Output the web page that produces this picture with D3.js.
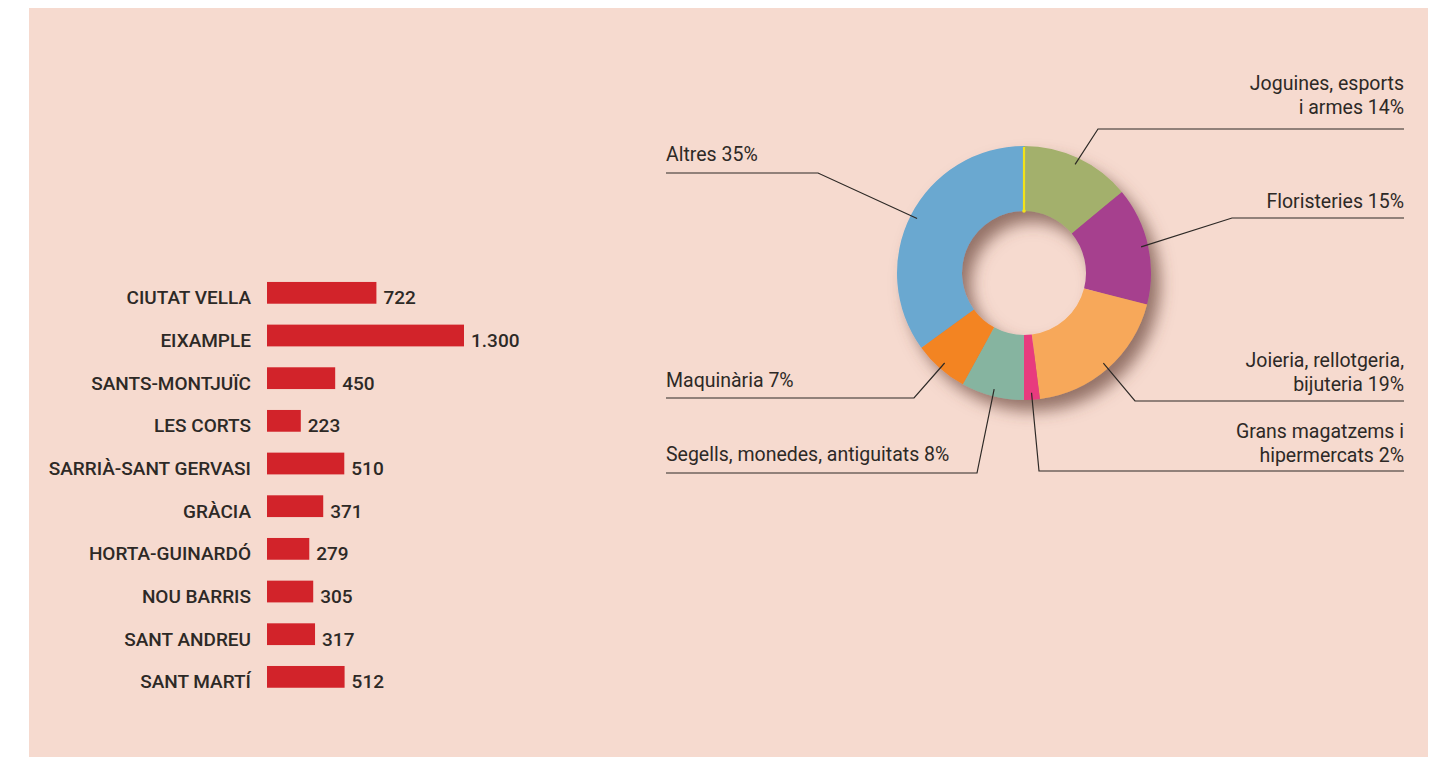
<!DOCTYPE html>
<html>
<head>
<meta charset="utf-8">
<script src="https://cdn.jsdelivr.net/npm/d3@7"></script>
<style>
  body { margin: 0; background: #fff; }
  text { font-family: Roboto, "Open Sans", sans-serif; fill: #2d2926; }
</style>
</head>
<body>
<div class="chart"></div>
<script>
// bar chart data (districts)
var districts = ["CIUTAT VELLA", "EIXAMPLE", "SANTS-MONTJUÏC", "LES CORTS", "SARRIÀ-SANT GERVASI",
                 "GRÀCIA", "HORTA-GUINARDÓ", "NOU BARRIS", "SANT ANDREU", "SANT MARTÍ"];
var counts = [722, 1300, 450, 223, 510, 371, 279, 305, 317, 512];

// donut data (sectors), clockwise from 12 o'clock
var sectorLabels = [["Joguines, esports", "i armes 14%"],
                    ["Floristeries 15%"],
                    ["Joieria, rellotgeria,", "bijuteria 19%"],
                    ["Grans magatzems i", "hipermercats 2%"],
                    ["Segells, monedes, antiguitats 8%"],
                    ["Maquinària 7%"],
                    ["Altres 35%"]];
var sectorShares = [14, 15, 19, 2, 8, 7, 35];
var sectorColors = ["#a3b06c", "#a6418e", "#f7a85a", "#e83a7e", "#86b4a0", "#f38423", "#6aa8d0"];

// where each leader line runs (side, horizontal line y, elbow x, text gap above line)
var leaderSide  = ["right", "right", "right", "right", "left", "left", "left"];
var leaderLineY = [129, 218, 401, 471, 473, 398, 173];
var leaderElbow = [1098, 1232, 1135, 1039, 977, 914, 818];
var leaderGap   = [15, 10, 10, 9, 12, 11, 12];

var W = 1436, H = 757;
var svg = d3.select(".chart").append("svg")
    .attr("width", W)
    .attr("height", H);

var defs = svg.append("defs");
var filter = defs.append("filter").attr("id", "shadow")
    .attr("x", "-40%").attr("y", "-40%").attr("width", "180%").attr("height", "180%");
filter.append("feDropShadow")
    .attr("dx", 9).attr("dy", 11).attr("stdDeviation", 8)
    .attr("flood-color", "#6a463c").attr("flood-opacity", 0.7);

// background panel
svg.append("rect")
    .attr("x", 29).attr("y", 8)
    .attr("width", 1399).attr("height", 749)
    .attr("fill", "#f6dacf");

// ---- bar chart ----
var fmt = d3.formatLocale({decimal: ",", thousands: ".", grouping: [3], currency: ["", "€"]}).format(",d");

var x = d3.scaleLinear().domain([0, 1300]).range([267, 464]);
var y = d3.scaleBand().domain(districts).range([271.5, 698.2]).paddingInner(0.49).paddingOuter(0.245);

var bars = svg.append("g");

bars.selectAll(".bar")
    .data(districts)
  .enter().append("rect")
    .attr("class", "bar")
    .attr("x", x(0))
    .attr("y", function(d) { return y(d); })
    .attr("height", y.bandwidth())
    .attr("width", function(d, i) { return x(counts[i]) - x(0); })
    .attr("fill", "#d2232a");

bars.selectAll(".cat")
    .data(districts)
  .enter().append("text")
    .attr("class", "cat")
    .attr("x", 251)
    .attr("y", function(d) { return y(d) + y.bandwidth() + 0.5; })
    .attr("text-anchor", "end")
    .style("font-size", "19px")
    .style("font-weight", 500)
    .text(function(d) { return d; });

bars.selectAll(".val")
    .data(districts)
  .enter().append("text")
    .attr("class", "val")
    .attr("x", function(d, i) { return x(counts[i]) + 7; })
    .attr("y", function(d) { return y(d) + y.bandwidth() + 0.5; })
    .style("font-size", "19px")
    .style("font-weight", 500)
    .text(function(d, i) { return fmt(counts[i]); });

// ---- donut ----
var cx = 1024, cy = 273, rOut = 127, rIn = 62;

var pie = d3.pie().sort(null).value(function(d) { return d; });
var arcs = pie(sectorShares);
var arc = d3.arc().innerRadius(rIn).outerRadius(rOut);
var pointArc = d3.arc().innerRadius(120).outerRadius(120);

var donut = svg.append("g").attr("transform", "translate(" + cx + "," + cy + ")");

var ring = donut.append("g").attr("filter", "url(#shadow)");
ring.selectAll("path")
    .data(arcs)
  .enter().append("path")
    .attr("d", arc)
    .attr("fill", function(d, i) { return sectorColors[i]; });

// yellow marker at the start of the ring
donut.append("line")
    .attr("x1", 0).attr("y1", -rIn)
    .attr("x2", 0).attr("y2", -rOut + 1)
    .attr("stroke", "#f2e21a")
    .attr("stroke-width", 2.2);
donut.append("circle")
    .attr("cx", 0).attr("cy", -rIn)
    .attr("r", 1.8)
    .attr("fill", "#f2e21a");

// leader lines and labels
var leaders = svg.append("g");

arcs.forEach(function(a, i) {
  var p = pointArc.centroid(a);
  var px = cx + p[0], py = cy + p[1];
  var ly = leaderLineY[i], ex = leaderElbow[i];
  var right = leaderSide[i] === "right";
  var endX = right ? 1404 : 666;

  leaders.append("path")
      .attr("d", d3.line()([[px, py], [ex, ly], [endX, ly]]))
      .attr("fill", "none")
      .attr("stroke", "#2d2926")
      .attr("stroke-width", 1.2);

  var lines = sectorLabels[i];
  lines.forEach(function(t, k) {
    leaders.append("text")
        .attr("x", endX)
        .attr("y", ly - leaderGap[i] - (lines.length - 1 - k) * 24)
        .attr("text-anchor", right ? "end" : "start")
        .style("font-size", "19.5px")
        .text(t);
  });
});
</script>
</body>
</html>
